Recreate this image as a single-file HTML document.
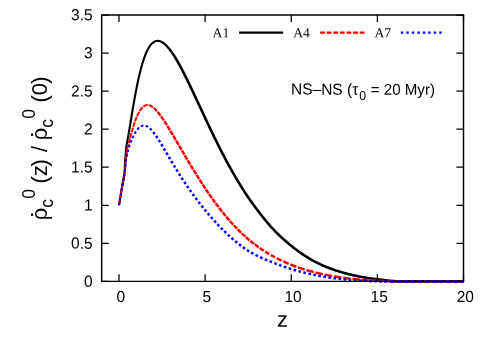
<!DOCTYPE html>
<html><head><meta charset="utf-8"><title>NS-NS rate density vs z</title>
<style>
html,body{margin:0;padding:0;background:#fff;}
svg{display:block;will-change:transform;font-family:"Liberation Sans",sans-serif;}
</style></head><body>
<svg width="491" height="343" viewBox="0 0 491 343">
<rect width="491" height="343" fill="#fff"/>
<path d="M120.04,205.27 L120.33,203.53 L120.62,201.79 L120.91,200.05 L121.20,198.31 L121.49,196.57 L121.79,194.82 L122.08,193.08 L122.37,191.34 L122.66,189.60 L122.95,187.86 L123.24,186.12 L123.53,184.38 L123.70,183.45 L123.87,182.52 L124.03,181.58 L124.20,180.65 L124.37,179.72 L124.53,178.78 L124.70,177.85 L124.87,176.92 L125.03,175.98 L125.20,175.05 L125.37,174.12 L125.54,173.13 L125.61,171.97 L125.67,170.89 L125.72,169.81 L125.78,168.72 L125.84,167.64 L125.90,166.56 L125.96,165.47 L126.02,164.39 L126.07,163.31 L126.13,162.22 L126.19,161.14 L126.25,160.07 L126.35,158.92 L126.45,157.76 L126.55,156.59 L126.65,155.42 L126.75,154.26 L126.85,153.09 L126.95,151.92 L127.05,150.76 L127.15,149.59 L127.25,148.42 L127.35,147.26 L127.44,146.12 L128.11,142.79 L128.78,139.12 L129.46,135.28 L130.14,131.30 L130.81,127.25 L131.49,123.15 L132.16,119.05 L132.84,114.96 L133.52,110.91 L134.19,106.92 L134.87,103.01 L135.54,99.19 L136.21,95.48 L136.89,91.87 L137.56,88.39 L138.24,85.04 L138.91,81.81 L139.58,78.72 L140.26,75.77 L140.93,72.95 L141.60,70.28 L142.28,67.74 L142.95,65.34 L143.62,63.07 L144.29,60.94 L144.96,58.94 L145.62,57.06 L146.29,55.32 L146.96,53.70 L147.62,52.20 L148.28,50.82 L148.94,49.55 L149.60,48.40 L150.25,47.35 L150.89,46.41 L151.53,45.58 L152.17,44.84 L152.80,44.20 L153.41,43.65 L154.02,43.18 L154.62,42.80 L155.21,42.49 L155.79,42.26 L156.37,42.09 L156.94,41.99 L157.51,41.94 L158.08,41.95 L158.66,42.02 L159.24,42.14 L159.84,42.32 L160.44,42.57 L161.04,42.86 L161.66,43.21 L162.28,43.61 L162.90,44.06 L163.54,44.56 L164.17,45.10 L164.81,45.70 L165.45,46.33 L166.10,47.01 L166.75,47.73 L167.40,48.49 L168.05,49.29 L168.70,50.12 L169.36,50.99 L170.01,51.89 L170.67,52.82 L171.33,53.79 L171.99,54.78 L172.65,55.80 L173.31,56.85 L173.97,57.92 L174.63,59.02 L175.29,60.14 L175.95,61.29 L176.62,62.45 L177.28,63.64 L177.96,64.84 L178.63,66.06 L179.30,67.30 L179.97,68.55 L180.64,69.82 L181.32,71.10 L181.99,72.40 L182.66,73.72 L183.34,75.04 L184.01,76.38 L184.68,77.73 L185.36,79.09 L186.03,80.46 L186.71,81.83 L187.38,83.22 L188.06,84.61 L188.73,86.02 L189.40,87.42 L190.08,88.84 L190.75,90.26 L191.43,91.68 L192.10,93.11 L192.78,94.55 L193.45,95.99 L194.13,97.43 L194.80,98.87 L195.48,100.32 L196.15,101.76 L196.83,103.21 L197.51,104.66 L198.18,106.11 L198.86,107.56 L199.53,109.01 L200.21,110.46 L200.88,111.91 L201.56,113.36 L202.24,114.81 L202.91,116.25 L203.59,117.70 L204.26,119.14 L204.94,120.57 L205.61,122.01 L206.29,123.44 L206.97,124.87 L207.64,126.29 L208.32,127.71 L209.00,129.13 L209.67,130.54 L210.35,131.95 L211.02,133.35 L211.70,134.75 L212.38,136.14 L213.05,137.53 L213.73,138.91 L214.41,140.29 L215.08,141.66 L215.76,143.02 L216.44,144.38 L217.11,145.73 L217.79,147.08 L218.47,148.42 L219.14,149.75 L219.82,151.07 L220.50,152.39 L221.17,153.70 L221.85,155.01 L222.53,156.31 L223.20,157.60 L223.88,158.88 L224.56,160.16 L225.24,161.42 L225.91,162.68 L226.59,163.94 L227.27,165.18 L227.94,166.42 L228.62,167.65 L229.30,168.87 L229.98,170.09 L230.65,171.29 L231.33,172.49 L232.01,173.68 L232.69,174.86 L233.36,176.04 L234.04,177.20 L234.72,178.36 L235.40,179.51 L236.07,180.65 L236.75,181.79 L237.43,182.91 L238.11,184.03 L238.78,185.14 L239.46,186.24 L240.14,187.33 L240.82,188.41 L241.50,189.49 L242.17,190.55 L242.85,191.61 L243.53,192.66 L244.21,193.70 L244.89,194.73 L245.57,195.75 L246.25,196.76 L246.92,197.76 L247.60,198.75 L248.28,199.73 L248.96,200.71 L249.64,201.67 L250.32,202.63 L251.00,203.58 L251.68,204.52 L252.35,205.45 L253.03,206.37 L253.71,207.28 L254.39,208.19 L255.07,209.10 L255.75,209.99 L256.42,210.88 L257.10,211.77 L257.78,212.65 L258.46,213.52 L259.13,214.39 L259.81,215.26 L260.49,216.12 L261.16,216.99 L261.84,217.85 L262.52,218.70 L263.20,219.55 L263.88,220.40 L264.56,221.24 L265.23,222.07 L265.92,222.89 L266.60,223.70 L267.28,224.51 L267.96,225.30 L268.64,226.09 L269.32,226.86 L270.00,227.63 L270.68,228.38 L271.36,229.12 L272.04,229.86 L272.73,230.58 L273.41,231.30 L274.09,232.01 L274.77,232.70 L275.45,233.39 L276.13,234.07 L276.81,234.74 L277.50,235.40 L278.18,236.05 L278.86,236.70 L279.54,237.34 L280.22,237.97 L280.90,238.60 L281.58,239.22 L282.26,239.83 L282.94,240.44 L283.62,241.04 L284.30,241.64 L284.98,242.24 L285.66,242.83 L286.34,243.41 L287.02,243.99 L287.70,244.56 L288.38,245.13 L289.06,245.69 L289.74,246.25 L290.42,246.80 L291.10,247.35 L291.78,247.89 L292.46,248.43 L293.14,248.96 L293.82,249.49 L294.50,250.01 L295.18,250.53 L295.86,251.04 L296.54,251.54 L297.22,252.04 L297.90,252.54 L298.59,253.03 L299.27,253.51 L299.95,253.99 L300.63,254.46 L301.31,254.93 L301.99,255.39 L302.67,255.85 L303.35,256.30 L304.04,256.75 L304.72,257.19 L305.40,257.62 L306.08,258.05 L306.76,258.48 L307.45,258.90 L308.13,259.31 L308.81,259.72 L309.49,260.13 L310.17,260.52 L310.86,260.92 L311.54,261.30 L312.22,261.68 L312.90,262.06 L313.59,262.43 L314.27,262.79 L314.95,263.15 L315.64,263.50 L316.32,263.85 L317.00,264.19 L317.69,264.53 L318.37,264.86 L319.05,265.19 L319.73,265.51 L320.42,265.82 L321.10,266.14 L321.78,266.44 L322.46,266.74 L323.15,267.04 L323.83,267.33 L324.51,267.62 L325.19,267.90 L325.88,268.18 L326.56,268.45 L327.24,268.72 L327.92,268.99 L328.60,269.25 L329.28,269.51 L329.97,269.76 L330.65,270.01 L331.33,270.26 L332.01,270.50 L332.69,270.74 L333.37,270.97 L334.05,271.21 L334.73,271.44 L335.41,271.66 L336.10,271.88 L336.78,272.10 L337.46,272.32 L338.14,272.53 L338.82,272.74 L339.50,272.95 L340.18,273.15 L340.86,273.36 L341.54,273.55 L342.22,273.75 L342.90,273.94 L343.58,274.14 L344.26,274.32 L344.94,274.51 L345.62,274.69 L346.30,274.87 L346.98,275.05 L347.66,275.23 L348.34,275.40 L349.02,275.57 L349.70,275.74 L350.38,275.90 L351.06,276.06 L351.74,276.22 L352.42,276.38 L353.10,276.54 L353.78,276.69 L354.46,276.84 L355.14,276.99 L355.82,277.13 L356.50,277.27 L357.18,277.41 L357.86,277.55 L358.54,277.68 L359.22,277.82 L359.90,277.95 L360.58,278.08 L361.26,278.20 L361.94,278.32 L362.62,278.45 L363.30,278.57 L363.97,278.68 L364.65,278.80 L365.33,278.91 L366.01,279.02 L366.69,279.13 L367.37,279.24 L368.05,279.34 L368.73,279.45 L369.41,279.55 L370.09,279.65 L370.77,279.74 L371.45,279.84 L372.12,279.93 L372.80,280.03 L373.48,280.12 L374.16,280.20 L374.84,280.29 L375.52,280.38 L376.20,280.46 L376.88,280.54 L377.56,280.62 L378.23,280.70 L378.91,280.77 L379.59,280.85 L380.26,280.92 L380.93,281.00 L381.60,281.08 L382.27,281.16 L382.94,281.25 L383.61,281.34 L384.29,281.43 L384.97,281.52 L385.65,281.61 L386.32,281.70 L387.01,281.78 L387.69,281.86 L388.37,281.94 L389.05,282.02 L389.73,282.09 L390.42,282.15 L391.10,282.22 L391.78,282.28 L392.47,282.33 L393.15,282.38 L393.83,282.43 L394.52,282.47 L395.20,282.51 L395.88,282.54 L396.57,282.57 L397.25,282.60 L397.93,282.62 L398.61,282.64 L399.30,282.65 L399.98,282.67 L400.66,282.68 L401.34,282.68 L402.02,282.69 L402.69,282.70 L403.37,282.70 L404.05,282.70 L404.73,282.70 L405.40,282.70 L406.08,282.70 L406.75,282.70 L407.43,282.70 L408.10,282.70 L408.78,282.70 L409.46,282.70 L410.13,282.70 L410.81,282.70 L411.48,282.70 L412.16,282.70 L412.83,282.70 L413.51,282.70 L414.18,282.70 L414.86,282.70 L415.54,282.70 L416.21,282.70 L416.89,282.70 L417.56,282.70 L418.24,282.70 L418.91,282.70 L419.59,282.70 L420.26,282.70 L420.94,282.70 L421.62,282.70 L422.29,282.70 L422.97,282.70 L423.64,282.70 L424.32,282.70 L424.99,282.70 L425.67,282.70 L426.34,282.70 L427.02,282.70 L427.70,282.70 L428.37,282.70 L429.05,282.70 L429.72,282.70 L430.40,282.70 L431.07,282.70 L431.75,282.70 L432.42,282.70 L433.10,282.70 L433.78,282.70 L434.45,282.70 L435.13,282.70 L435.80,282.70 L436.48,282.70 L437.15,282.70 L437.83,282.70 L438.50,282.70 L439.18,282.70 L439.86,282.70 L440.53,282.70 L441.21,282.70 L441.88,282.70 L442.56,282.70 L443.23,282.70 L443.91,282.70 L444.58,282.70 L445.26,282.70 L445.94,282.70 L446.61,282.70 L447.29,282.70 L447.96,282.70 L448.64,282.70 L449.31,282.70 L449.99,282.70 L450.66,282.70 L451.34,282.70 L452.02,282.70 L452.69,282.70 L453.37,282.70 L454.04,282.70 L454.72,282.70 L455.39,282.70 L456.07,282.70 L456.74,282.70 L457.42,282.70 L458.10,282.70 L458.77,282.70 L459.45,282.70 L460.12,282.70 L460.80,282.70 L461.47,282.70 L462.15,282.70 L462.82,282.70 L463.50,282.70 L463.50,280.10 L462.82,280.10 L462.15,280.10 L461.47,280.10 L460.80,280.10 L460.12,280.10 L459.45,280.10 L458.77,280.10 L458.10,280.10 L457.42,280.10 L456.74,280.10 L456.07,280.10 L455.39,280.10 L454.72,280.10 L454.04,280.10 L453.37,280.10 L452.69,280.10 L452.02,280.10 L451.34,280.10 L450.66,280.10 L449.99,280.10 L449.31,280.10 L448.64,280.10 L447.96,280.10 L447.29,280.10 L446.61,280.10 L445.94,280.10 L445.26,280.10 L444.58,280.10 L443.91,280.10 L443.23,280.10 L442.56,280.10 L441.88,280.10 L441.21,280.10 L440.53,280.10 L439.86,280.10 L439.18,280.10 L438.50,280.10 L437.83,280.10 L437.15,280.10 L436.48,280.10 L435.80,280.10 L435.13,280.10 L434.45,280.10 L433.78,280.10 L433.10,280.10 L432.42,280.10 L431.75,280.10 L431.07,280.10 L430.40,280.10 L429.72,280.10 L429.05,280.10 L428.37,280.10 L427.70,280.10 L427.02,280.10 L426.34,280.10 L425.67,280.10 L424.99,280.10 L424.32,280.10 L423.64,280.10 L422.97,280.10 L422.29,280.10 L421.62,280.10 L420.94,280.10 L420.26,280.10 L419.59,280.10 L418.91,280.10 L418.24,280.10 L417.56,280.10 L416.89,280.10 L416.21,280.10 L415.54,280.10 L414.86,280.10 L414.18,280.10 L413.51,280.10 L412.83,280.10 L412.16,280.10 L411.48,280.10 L410.81,280.10 L410.13,280.10 L409.46,280.10 L408.78,280.10 L408.10,280.10 L407.43,280.10 L406.75,280.10 L406.08,280.10 L405.40,280.10 L404.73,280.10 L404.05,280.10 L403.38,280.10 L402.71,280.10 L402.03,280.09 L401.36,280.09 L400.69,280.08 L400.02,280.07 L399.35,280.05 L398.68,280.04 L398.01,280.02 L397.34,280.00 L396.67,279.97 L396.00,279.94 L395.34,279.91 L394.67,279.87 L394.00,279.83 L393.33,279.79 L392.67,279.74 L392.00,279.69 L391.33,279.63 L390.66,279.57 L390.00,279.50 L389.33,279.43 L388.66,279.36 L387.99,279.28 L387.32,279.20 L386.65,279.12 L385.98,279.03 L385.30,278.94 L384.63,278.85 L383.96,278.76 L383.28,278.67 L382.60,278.59 L381.92,278.50 L381.24,278.42 L380.55,278.34 L379.87,278.26 L379.20,278.19 L378.53,278.11 L377.85,278.04 L377.18,277.96 L376.51,277.88 L375.84,277.80 L375.17,277.71 L374.49,277.63 L373.82,277.54 L373.15,277.45 L372.48,277.36 L371.80,277.27 L371.13,277.17 L370.46,277.07 L369.79,276.98 L369.12,276.88 L368.44,276.77 L367.77,276.67 L367.10,276.56 L366.43,276.46 L365.76,276.35 L365.09,276.23 L364.41,276.12 L363.74,276.00 L363.07,275.89 L362.40,275.77 L361.73,275.64 L361.05,275.52 L360.38,275.39 L359.71,275.26 L359.04,275.13 L358.37,275.00 L357.70,274.86 L357.03,274.73 L356.36,274.59 L355.68,274.44 L355.01,274.30 L354.34,274.15 L353.67,274.00 L353.00,273.85 L352.33,273.69 L351.66,273.53 L350.99,273.37 L350.32,273.21 L349.64,273.05 L348.97,272.88 L348.30,272.71 L347.63,272.54 L346.96,272.36 L346.29,272.18 L345.62,272.00 L344.95,271.82 L344.28,271.63 L343.61,271.44 L342.93,271.25 L342.26,271.06 L341.59,270.86 L340.92,270.66 L340.25,270.46 L339.58,270.26 L338.91,270.05 L338.24,269.84 L337.57,269.63 L336.90,269.41 L336.23,269.19 L335.56,268.97 L334.89,268.74 L334.22,268.52 L333.55,268.28 L332.88,268.05 L332.21,267.81 L331.54,267.57 L330.87,267.32 L330.20,267.07 L329.53,266.82 L328.86,266.56 L328.19,266.30 L327.52,266.04 L326.85,265.77 L326.18,265.50 L325.51,265.22 L324.84,264.94 L324.18,264.65 L323.51,264.36 L322.84,264.07 L322.17,263.77 L321.50,263.46 L320.83,263.15 L320.16,262.84 L319.50,262.52 L318.83,262.19 L318.16,261.87 L317.49,261.53 L316.82,261.19 L316.15,260.85 L315.49,260.49 L314.82,260.14 L314.15,259.78 L313.48,259.41 L312.81,259.04 L312.15,258.66 L311.48,258.27 L310.81,257.88 L310.14,257.49 L309.47,257.09 L308.80,256.68 L308.13,256.27 L307.46,255.85 L306.79,255.43 L306.12,255.00 L305.46,254.57 L304.79,254.13 L304.12,253.69 L303.45,253.24 L302.78,252.78 L302.11,252.32 L301.44,251.86 L300.77,251.39 L300.10,250.91 L299.43,250.43 L298.76,249.94 L298.09,249.45 L297.42,248.95 L296.75,248.45 L296.08,247.94 L295.41,247.43 L294.73,246.91 L294.06,246.39 L293.39,245.86 L292.72,245.32 L292.05,244.78 L291.38,244.24 L290.71,243.69 L290.04,243.13 L289.37,242.57 L288.70,242.00 L288.03,241.43 L287.35,240.86 L286.68,240.28 L286.01,239.69 L285.34,239.10 L284.67,238.50 L284.00,237.90 L283.33,237.29 L282.65,236.68 L281.98,236.06 L281.31,235.44 L280.64,234.81 L279.97,234.17 L279.30,233.53 L278.63,232.88 L277.96,232.22 L277.29,231.55 L276.62,230.88 L275.95,230.19 L275.28,229.50 L274.61,228.80 L273.94,228.08 L273.28,227.36 L272.61,226.63 L271.94,225.89 L271.27,225.14 L270.60,224.38 L269.93,223.60 L269.26,222.82 L268.58,222.03 L267.91,221.23 L267.24,220.42 L266.57,219.60 L265.90,218.77 L265.23,217.93 L264.55,217.08 L263.88,216.23 L263.21,215.38 L262.53,214.52 L261.86,213.66 L261.18,212.79 L260.51,211.93 L259.84,211.06 L259.16,210.18 L258.49,209.30 L257.82,208.42 L257.14,207.53 L256.47,206.63 L255.80,205.73 L255.13,204.83 L254.45,203.91 L253.78,202.99 L253.11,202.06 L252.44,201.12 L251.76,200.17 L251.09,199.22 L250.42,198.25 L249.75,197.28 L249.07,196.30 L248.40,195.30 L247.73,194.30 L247.06,193.29 L246.38,192.27 L245.71,191.24 L245.04,190.20 L244.37,189.15 L243.69,188.10 L243.02,187.03 L242.35,185.95 L241.67,184.87 L241.00,183.78 L240.33,182.68 L239.65,181.57 L238.98,180.45 L238.31,179.32 L237.63,178.19 L236.96,177.04 L236.29,175.89 L235.61,174.73 L234.94,173.57 L234.27,172.39 L233.59,171.21 L232.92,170.02 L232.24,168.82 L231.57,167.61 L230.90,166.39 L230.22,165.17 L229.55,163.94 L228.88,162.70 L228.20,161.45 L227.53,160.20 L226.85,158.93 L226.18,157.66 L225.51,156.39 L224.83,155.10 L224.16,153.81 L223.48,152.51 L222.81,151.20 L222.13,149.89 L221.46,148.57 L220.79,147.24 L220.11,145.91 L219.44,144.56 L218.76,143.22 L218.09,141.86 L217.41,140.50 L216.74,139.14 L216.06,137.77 L215.39,136.39 L214.72,135.00 L214.04,133.61 L213.37,132.22 L212.69,130.82 L212.02,129.42 L211.34,128.01 L210.67,126.59 L209.99,125.18 L209.32,123.75 L208.64,122.33 L207.97,120.90 L207.29,119.47 L206.62,118.03 L205.94,116.59 L205.27,115.15 L204.59,113.71 L203.92,112.26 L203.24,110.81 L202.56,109.37 L201.89,107.92 L201.21,106.47 L200.54,105.02 L199.86,103.57 L199.19,102.11 L198.51,100.67 L197.84,99.22 L197.16,97.77 L196.48,96.32 L195.81,94.88 L195.13,93.44 L194.46,92.01 L193.78,90.57 L193.10,89.15 L192.43,87.72 L191.75,86.30 L191.07,84.89 L190.40,83.48 L189.72,82.08 L189.04,80.69 L188.37,79.31 L187.69,77.93 L187.01,76.57 L186.33,75.21 L185.66,73.87 L184.98,72.53 L184.30,71.21 L183.62,69.90 L182.95,68.61 L182.27,67.33 L181.59,66.06 L180.91,64.81 L180.23,63.58 L179.55,62.36 L178.87,61.17 L178.18,59.99 L177.49,58.84 L176.80,57.71 L176.11,56.60 L175.42,55.51 L174.73,54.45 L174.04,53.42 L173.35,52.41 L172.65,51.43 L171.96,50.47 L171.26,49.55 L170.57,48.66 L169.87,47.80 L169.17,46.98 L168.47,46.19 L167.77,45.44 L167.06,44.72 L166.35,44.05 L165.64,43.42 L164.93,42.83 L164.21,42.29 L163.48,41.79 L162.75,41.34 L162.01,40.95 L161.27,40.61 L160.52,40.33 L159.76,40.11 L159.00,39.95 L158.22,39.86 L157.44,39.84 L156.66,39.90 L155.88,40.05 L155.11,40.27 L154.34,40.58 L153.57,40.98 L152.82,41.46 L152.08,42.02 L151.35,42.68 L150.62,43.42 L149.91,44.25 L149.20,45.18 L148.49,46.20 L147.79,47.32 L147.10,48.55 L146.40,49.88 L145.71,51.32 L145.03,52.87 L144.34,54.54 L143.66,56.34 L142.97,58.25 L142.29,60.29 L141.61,62.46 L140.93,64.75 L140.25,67.19 L139.57,69.75 L138.89,72.45 L138.21,75.29 L137.54,78.27 L136.86,81.37 L136.18,84.61 L135.50,87.98 L134.83,91.48 L134.15,95.09 L133.47,98.82 L132.80,102.65 L132.12,106.57 L131.44,110.56 L130.77,114.61 L130.09,118.71 L129.42,122.81 L128.74,126.91 L128.07,130.95 L127.39,134.92 L126.72,138.75 L126.04,142.39 L125.36,145.88 L125.25,147.08 L125.15,148.24 L125.05,149.41 L124.95,150.58 L124.85,151.74 L124.75,152.91 L124.65,154.08 L124.55,155.24 L124.45,156.41 L124.35,157.58 L124.25,158.74 L124.15,159.93 L124.09,161.03 L124.03,162.11 L123.98,163.19 L123.92,164.28 L123.86,165.36 L123.80,166.44 L123.74,167.53 L123.68,168.61 L123.63,169.69 L123.57,170.78 L123.51,171.86 L123.46,172.87 L123.30,173.75 L123.13,174.68 L122.97,175.62 L122.80,176.55 L122.63,177.48 L122.47,178.42 L122.30,179.35 L122.13,180.28 L121.97,181.22 L121.80,182.15 L121.63,183.08 L121.47,184.02 L121.17,185.77 L120.88,187.51 L120.59,189.25 L120.30,190.99 L120.01,192.73 L119.71,194.48 L119.42,196.22 L119.13,197.96 L118.84,199.70 L118.55,201.44 L118.26,203.18 L117.96,204.93Z" fill="#000"/>
<path d="M119.98,205.27 L120.29,203.53 L120.60,201.79 L120.82,200.55 L118.85,200.20 L118.63,201.44 L118.32,203.18 L118.02,204.93ZM120.98,199.66 L121.22,198.31 L121.53,196.57 L121.82,194.94 L119.85,194.59 L119.56,196.22 L119.25,197.96 L119.01,199.31ZM121.97,194.05 L122.14,193.08 L122.45,191.34 L122.76,189.60 L122.81,189.32 L120.84,188.97 L120.79,189.25 L120.48,190.99 L120.17,192.73 L120.00,193.70ZM122.97,188.44 L123.07,187.86 L123.38,186.12 L123.68,184.38 L123.81,183.72 L121.84,183.35 L121.72,184.02 L121.41,185.77 L121.10,187.51 L121.00,188.09ZM123.97,182.84 L124.03,182.52 L124.21,181.58 L124.38,180.65 L124.56,179.72 L124.73,178.78 L124.86,178.12 L122.89,177.75 L122.77,178.42 L122.59,179.35 L122.42,180.28 L122.24,181.22 L122.07,182.15 L122.01,182.47ZM125.02,177.23 L125.08,176.92 L125.26,175.98 L125.43,175.05 L125.61,174.12 L125.79,173.13 L125.85,172.42 L123.86,172.22 L123.81,172.87 L123.64,173.75 L123.47,174.68 L123.29,175.62 L123.12,176.55 L123.06,176.87ZM125.92,171.50 L125.96,170.91 L126.05,169.83 L126.13,168.74 L126.21,167.66 L126.29,166.72 L124.29,166.56 L124.22,167.51 L124.14,168.59 L124.05,169.67 L123.97,170.76 L123.92,171.35ZM126.36,165.82 L126.38,165.49 L126.46,164.41 L126.55,163.33 L126.63,162.24 L126.71,161.16 L126.72,161.04 L124.73,160.88 L124.72,161.01 L124.64,162.09 L124.55,163.17 L124.47,164.26 L124.39,165.34 L124.36,165.66ZM126.79,160.16 L126.79,160.10 L126.92,159.12 L127.04,158.12 L127.17,157.12 L127.29,156.12 L127.38,155.42 L125.40,155.17 L125.31,155.88 L125.18,156.88 L125.06,157.88 L124.93,158.88 L124.81,159.90 L124.80,159.96ZM127.49,154.53 L127.54,154.12 L127.67,153.12 L127.79,152.12 L127.92,151.12 L128.04,150.12 L128.09,149.76 L126.10,149.51 L126.06,149.88 L125.93,150.88 L125.81,151.88 L125.68,152.88 L125.56,153.88 L125.51,154.28ZM128.20,148.89 L128.29,148.24 L128.94,145.92 L129.36,144.37 L127.43,143.84 L127.01,145.39 L126.31,147.90 L126.22,148.61ZM129.60,143.50 L129.61,143.45 L130.29,140.95 L130.85,138.86 L128.92,138.34 L128.36,140.43 L127.68,142.92 L127.67,142.97ZM131.09,137.99 L131.63,136.00 L132.30,133.58 L132.36,133.38 L130.44,132.83 L130.38,133.04 L129.70,135.47 L129.16,137.47ZM132.61,132.51 L132.98,131.23 L133.65,128.95 L133.96,127.93 L132.05,127.34 L131.73,128.38 L131.06,130.67 L130.69,131.96ZM134.22,127.07 L134.32,126.76 L134.99,124.67 L135.66,122.68 L135.70,122.54 L133.82,121.88 L133.77,122.02 L133.09,124.04 L132.41,126.16 L132.31,126.48ZM136.00,121.70 L136.32,120.79 L136.99,119.02 L137.66,117.37 L137.70,117.27 L135.86,116.50 L135.81,116.60 L135.13,118.30 L134.45,120.11 L134.12,121.03ZM138.05,116.46 L138.32,115.84 L138.98,114.42 L139.64,113.13 L140.13,112.25 L138.39,111.26 L137.87,112.19 L137.18,113.55 L136.49,115.02 L136.22,115.66ZM140.57,111.50 L140.94,110.90 L141.58,109.96 L142.22,109.13 L142.85,108.42 L143.34,107.94 L141.98,106.47 L141.40,107.04 L140.68,107.86 L139.97,108.78 L139.26,109.81 L138.86,110.46ZM143.95,107.41 L144.07,107.31 L144.67,106.90 L145.25,106.58 L145.82,106.35 L146.38,106.19 L146.94,106.10 L147.50,106.08 L147.71,106.09 L147.83,104.10 L147.53,104.08 L146.74,104.11 L145.95,104.24 L145.17,104.46 L144.39,104.78 L143.62,105.19 L142.87,105.71 L142.72,105.83ZM148.47,106.19 L148.64,106.22 L149.22,106.39 L149.82,106.62 L150.42,106.92 L151.03,107.27 L151.65,107.68 L152.27,108.15 L152.29,108.17 L153.56,106.49 L153.53,106.47 L152.81,105.97 L152.08,105.51 L151.35,105.11 L150.60,104.77 L149.85,104.49 L149.08,104.28 L148.86,104.23ZM152.95,108.71 L153.54,109.23 L154.17,109.84 L154.82,110.49 L155.46,111.18 L156.11,111.91 L156.19,112.01 L157.87,110.53 L157.78,110.43 L157.08,109.68 L156.38,108.96 L155.67,108.27 L154.96,107.63 L154.31,107.08ZM156.76,112.68 L157.41,113.48 L158.06,114.31 L158.72,115.17 L159.37,116.06 L159.64,116.42 L161.53,115.03 L161.25,114.66 L160.56,113.76 L159.87,112.88 L159.17,112.04 L158.48,111.22ZM160.15,117.15 L160.69,117.90 L161.34,118.86 L162.00,119.84 L162.66,120.84 L162.82,121.08 L164.87,119.72 L164.70,119.47 L164.01,118.47 L163.33,117.49 L162.64,116.52 L162.08,115.76ZM163.31,121.83 L163.32,121.85 L163.98,122.88 L164.65,123.92 L165.32,124.97 L165.88,125.85 L167.99,124.53 L167.43,123.64 L166.76,122.57 L166.08,121.52 L165.39,120.49 L165.38,120.47ZM166.35,126.61 L166.66,127.11 L167.33,128.20 L168.01,129.30 L168.68,130.40 L168.85,130.69 L170.99,129.40 L170.82,129.11 L170.14,128.00 L169.46,126.89 L168.79,125.80 L168.47,125.29ZM169.32,131.46 L169.35,131.52 L170.02,132.64 L170.69,133.76 L171.37,134.89 L171.77,135.58 L173.92,134.30 L173.52,133.62 L172.84,132.48 L172.17,131.35 L171.49,130.23 L171.46,130.17ZM172.23,136.35 L172.71,137.17 L173.38,138.32 L174.06,139.47 L174.65,140.48 L176.81,139.22 L176.21,138.20 L175.54,137.05 L174.87,135.90 L174.38,135.08ZM175.11,141.26 L175.40,141.77 L176.08,142.92 L176.75,144.08 L177.42,145.24 L177.52,145.41 L179.68,144.15 L179.59,143.98 L178.91,142.82 L178.24,141.66 L177.56,140.51 L177.27,140.00ZM177.98,146.18 L178.10,146.39 L178.77,147.55 L179.45,148.71 L180.12,149.86 L180.39,150.33 L182.55,149.07 L182.28,148.61 L181.61,147.45 L180.93,146.29 L180.26,145.14 L180.14,144.93ZM180.85,151.11 L181.47,152.17 L182.14,153.33 L182.82,154.48 L183.27,155.26 L185.43,153.99 L184.97,153.21 L184.30,152.06 L183.63,150.91 L183.01,149.85ZM183.73,156.03 L184.16,156.77 L184.84,157.92 L185.51,159.06 L186.17,160.17 L188.32,158.90 L187.67,157.79 L186.99,156.65 L186.32,155.51 L185.88,154.77ZM186.63,160.94 L186.86,161.34 L187.54,162.47 L188.21,163.60 L188.89,164.73 L189.09,165.07 L191.24,163.78 L191.03,163.44 L190.36,162.32 L189.68,161.19 L189.01,160.06 L188.78,159.67ZM189.56,165.84 L189.56,165.85 L190.24,166.97 L190.91,168.08 L191.59,169.19 L192.05,169.95 L194.18,168.65 L193.72,167.89 L193.05,166.79 L192.38,165.67 L191.70,164.56 L191.70,164.55ZM192.52,170.72 L192.94,171.40 L193.61,172.50 L194.29,173.59 L194.96,174.68 L195.05,174.82 L197.17,173.50 L197.08,173.36 L196.41,172.28 L195.74,171.19 L195.07,170.09 L194.65,169.42ZM195.52,175.58 L195.64,175.76 L196.31,176.84 L196.99,177.92 L197.66,178.98 L198.09,179.65 L200.20,178.31 L199.77,177.65 L199.10,176.58 L198.43,175.51 L197.76,174.44 L197.64,174.26ZM198.57,180.41 L199.01,181.10 L199.69,182.16 L200.36,183.20 L201.04,184.25 L201.18,184.46 L203.27,183.09 L203.13,182.88 L202.46,181.85 L201.79,180.80 L201.12,179.76 L200.68,179.07ZM201.67,185.21 L201.71,185.28 L202.39,186.31 L203.06,187.34 L203.74,188.36 L204.32,189.23 L206.40,187.84 L205.82,186.97 L205.15,185.96 L204.48,184.94 L203.81,183.91 L203.76,183.85ZM204.83,189.98 L205.09,190.37 L205.77,191.38 L206.44,192.37 L207.12,193.36 L207.53,193.96 L209.59,192.54 L209.18,191.95 L208.51,190.96 L207.84,189.97 L207.17,188.98 L206.90,188.59ZM208.05,194.70 L208.47,195.32 L209.15,196.29 L209.82,197.25 L210.50,198.21 L210.81,198.65 L212.85,197.20 L212.54,196.76 L211.87,195.81 L211.20,194.86 L210.52,193.89 L210.10,193.28ZM211.33,199.38 L211.85,200.11 L212.53,201.04 L213.20,201.97 L213.88,202.90 L214.16,203.28 L216.17,201.80 L215.89,201.42 L215.22,200.50 L214.55,199.58 L213.88,198.65 L213.37,197.93ZM214.70,204.01 L215.23,204.73 L215.91,205.64 L216.58,206.53 L217.26,207.43 L217.59,207.86 L219.58,206.34 L219.25,205.91 L218.58,205.03 L217.91,204.14 L217.24,203.24 L216.71,202.52ZM218.14,208.58 L218.61,209.19 L219.29,210.06 L219.97,210.93 L220.64,211.78 L221.12,212.38 L223.07,210.82 L222.60,210.23 L221.93,209.38 L221.26,208.52 L220.59,207.66 L220.13,207.05ZM221.68,213.08 L222.00,213.48 L222.68,214.32 L223.35,215.15 L224.03,215.97 L224.71,216.79 L224.73,216.82 L226.65,215.22 L226.63,215.19 L225.96,214.38 L225.29,213.56 L224.62,212.74 L223.95,211.91 L223.63,211.52ZM225.31,217.51 L225.38,217.60 L226.06,218.40 L226.74,219.19 L227.42,219.98 L228.09,220.77 L228.45,221.18 L230.33,219.53 L229.98,219.12 L229.31,218.35 L228.64,217.57 L227.97,216.78 L227.30,215.99 L227.23,215.90ZM229.05,221.86 L229.45,222.31 L230.13,223.07 L230.80,223.82 L231.48,224.57 L232.16,225.31 L232.28,225.44 L234.12,223.75 L234.00,223.62 L233.33,222.89 L232.66,222.15 L231.99,221.40 L231.32,220.65 L230.92,220.20ZM232.89,226.11 L233.51,226.77 L234.19,227.49 L234.87,228.20 L235.55,228.91 L236.22,229.60 L238.01,227.86 L237.35,227.17 L236.68,226.47 L236.01,225.77 L235.34,225.06 L234.73,224.40ZM236.86,230.25 L236.90,230.30 L237.58,230.98 L238.26,231.66 L238.94,232.33 L239.62,233.00 L240.29,233.65 L242.03,231.85 L241.36,231.21 L240.69,230.55 L240.02,229.89 L239.35,229.22 L238.69,228.54 L238.64,228.50ZM240.95,234.28 L240.97,234.31 L241.65,234.95 L242.33,235.58 L243.01,236.21 L243.69,236.84 L244.37,237.45 L244.50,237.57 L246.17,235.71 L246.04,235.59 L245.37,234.99 L244.71,234.38 L244.04,233.76 L243.37,233.13 L242.70,232.50 L242.67,232.47ZM245.17,238.17 L245.73,238.66 L246.41,239.26 L247.09,239.84 L247.77,240.42 L248.44,241.00 L248.84,241.33 L250.44,239.41 L250.05,239.08 L249.38,238.52 L248.72,237.95 L248.05,237.37 L247.38,236.78 L246.83,236.30ZM249.54,241.91 L249.80,242.12 L250.48,242.68 L251.16,243.22 L251.84,243.76 L252.52,244.29 L253.20,244.82 L253.33,244.92 L254.85,242.94 L254.73,242.84 L254.06,242.32 L253.39,241.80 L252.72,241.27 L252.06,240.73 L251.39,240.19 L251.13,239.97ZM254.07,245.48 L254.56,245.85 L255.24,246.36 L255.92,246.86 L256.60,247.36 L257.28,247.85 L257.96,248.33 L257.98,248.34 L259.42,246.30 L259.40,246.29 L258.73,245.81 L258.07,245.33 L257.40,244.85 L256.73,244.35 L256.06,243.86 L255.58,243.49ZM259.02,249.07 L259.32,249.28 L260.00,249.74 L260.68,250.20 L261.36,250.66 L262.04,251.11 L262.72,251.55 L263.04,251.76 L264.40,249.66 L264.08,249.45 L263.41,249.02 L262.74,248.57 L262.07,248.13 L261.41,247.68 L260.74,247.22 L260.44,247.01ZM264.42,252.64 L264.76,252.85 L265.43,253.27 L266.11,253.69 L266.79,254.10 L267.47,254.51 L268.15,254.91 L268.56,255.15 L269.82,252.99 L269.42,252.76 L268.75,252.36 L268.09,251.96 L267.42,251.55 L266.75,251.14 L266.08,250.73 L265.75,250.52ZM270.13,256.06 L270.19,256.09 L270.87,256.48 L271.55,256.86 L272.23,257.24 L272.90,257.61 L273.58,257.98 L274.26,258.34 L274.56,258.50 L275.73,256.29 L275.44,256.13 L274.77,255.78 L274.10,255.41 L273.43,255.05 L272.76,254.68 L272.10,254.30 L271.43,253.92 L271.37,253.89ZM276.16,259.34 L276.30,259.41 L276.98,259.76 L277.66,260.10 L278.34,260.44 L279.01,260.78 L279.69,261.11 L280.37,261.44 L281.05,261.76 L281.08,261.78 L282.16,259.52 L282.12,259.50 L281.46,259.18 L280.79,258.86 L280.12,258.53 L279.45,258.20 L278.78,257.87 L278.11,257.53 L277.44,257.19 L277.31,257.12ZM282.73,262.54 L283.09,262.71 L283.77,263.02 L284.45,263.32 L285.13,263.62 L285.81,263.92 L286.49,264.21 L287.16,264.50 L287.84,264.79 L288.20,264.93 L289.16,262.62 L288.81,262.48 L288.14,262.20 L287.47,261.91 L286.80,261.63 L286.13,261.33 L285.47,261.04 L284.80,260.74 L284.13,260.43 L283.77,260.27ZM289.87,265.62 L289.88,265.62 L290.56,265.89 L291.24,266.16 L291.92,266.43 L292.60,266.69 L293.27,266.95 L293.95,267.20 L294.63,267.45 L295.31,267.70 L295.94,267.93 L296.78,265.57 L296.16,265.35 L295.49,265.11 L294.83,264.86 L294.16,264.61 L293.49,264.35 L292.82,264.10 L292.15,263.84 L291.48,263.57 L290.81,263.30 L290.81,263.30ZM297.65,268.53 L298.02,268.66 L298.70,268.89 L299.38,269.12 L300.06,269.35 L300.74,269.57 L301.42,269.79 L302.09,270.01 L302.77,270.22 L303.45,270.43 L304.13,270.64 L304.34,270.71 L305.07,268.32 L304.86,268.25 L304.19,268.05 L303.52,267.84 L302.85,267.63 L302.18,267.41 L301.52,267.19 L300.85,266.97 L300.18,266.75 L299.51,266.52 L298.84,266.30 L298.46,266.17ZM306.08,271.23 L306.16,271.26 L306.84,271.46 L307.52,271.65 L308.20,271.85 L308.87,272.04 L309.55,272.23 L310.23,272.41 L310.91,272.60 L311.58,272.78 L312.26,272.96 L312.94,273.14 L313.44,273.27 L314.07,270.85 L313.57,270.72 L312.90,270.54 L312.23,270.37 L311.56,270.19 L310.89,270.00 L310.22,269.82 L309.55,269.63 L308.88,269.44 L308.21,269.25 L307.54,269.06 L306.87,268.86 L306.79,268.83ZM315.20,273.71 L315.65,273.82 L316.33,273.99 L317.00,274.15 L317.68,274.32 L318.36,274.48 L319.04,274.63 L319.71,274.79 L320.39,274.94 L321.07,275.09 L321.75,275.24 L322.42,275.39 L322.64,275.44 L323.17,272.99 L322.95,272.95 L322.28,272.80 L321.61,272.65 L320.94,272.50 L320.27,272.35 L319.60,272.20 L318.93,272.04 L318.26,271.88 L317.59,271.72 L316.92,271.56 L316.25,271.40 L315.80,271.29ZM324.41,275.81 L324.45,275.82 L325.13,275.96 L325.81,276.10 L326.48,276.24 L327.16,276.37 L327.84,276.50 L328.51,276.64 L329.19,276.77 L329.87,276.89 L330.54,277.02 L331.22,277.14 L331.90,277.27 L331.91,277.27 L332.35,274.81 L332.34,274.81 L331.67,274.68 L331.00,274.56 L330.33,274.44 L329.66,274.31 L328.99,274.18 L328.32,274.05 L327.65,273.92 L326.97,273.79 L326.30,273.65 L325.63,273.51 L324.96,273.38 L324.92,273.37ZM333.69,277.58 L333.93,277.62 L334.61,277.74 L335.28,277.85 L335.96,277.97 L336.64,278.08 L337.31,278.18 L337.99,278.29 L338.67,278.40 L339.34,278.50 L340.02,278.60 L340.70,278.71 L341.22,278.78 L341.58,276.31 L341.06,276.23 L340.39,276.13 L339.72,276.03 L339.05,275.93 L338.38,275.82 L337.71,275.72 L337.04,275.61 L336.37,275.50 L335.69,275.39 L335.02,275.27 L334.35,275.16 L334.11,275.12ZM343.01,279.04 L343.40,279.09 L344.08,279.19 L344.75,279.28 L345.43,279.37 L346.11,279.45 L346.78,279.54 L347.46,279.63 L348.14,279.71 L348.81,279.79 L349.49,279.87 L350.17,279.95 L350.58,280.00 L350.87,277.51 L350.45,277.47 L349.78,277.39 L349.11,277.31 L348.44,277.23 L347.77,277.15 L347.10,277.06 L346.43,276.98 L345.76,276.89 L345.09,276.80 L344.42,276.71 L343.74,276.62 L343.36,276.56ZM352.38,280.20 L352.87,280.25 L353.55,280.32 L354.23,280.39 L354.90,280.46 L355.58,280.53 L356.26,280.59 L356.93,280.66 L357.61,280.72 L358.28,280.78 L358.96,280.84 L359.64,280.90 L359.75,280.91 L359.96,278.42 L359.85,278.41 L359.18,278.35 L358.51,278.29 L357.84,278.23 L357.16,278.17 L356.49,278.10 L355.82,278.04 L355.15,277.97 L354.48,277.90 L353.81,277.84 L353.14,277.76 L352.65,277.71ZM361.55,281.05 L361.67,281.06 L362.34,281.12 L363.02,281.17 L363.69,281.22 L364.37,281.27 L365.04,281.32 L365.72,281.37 L366.40,281.41 L367.07,281.46 L367.75,281.50 L368.42,281.54 L368.57,281.55 L368.73,279.06 L368.58,279.05 L367.91,279.01 L367.24,278.96 L366.57,278.92 L365.89,278.87 L365.22,278.82 L364.55,278.78 L363.88,278.73 L363.21,278.68 L362.53,278.62 L361.86,278.57 L361.75,278.56ZM370.37,281.66 L370.45,281.67 L371.13,281.71 L371.80,281.74 L372.48,281.78 L373.15,281.82 L373.83,281.85 L374.50,281.89 L375.18,281.92 L375.85,281.96 L376.52,281.99 L377.05,282.02 L377.19,279.53 L376.65,279.50 L375.98,279.46 L375.30,279.42 L374.63,279.39 L373.96,279.36 L373.28,279.32 L372.61,279.29 L371.94,279.25 L371.27,279.21 L370.60,279.17 L370.52,279.17ZM378.85,282.12 L379.21,282.14 L379.89,282.18 L380.56,282.22 L381.24,282.25 L381.91,282.29 L382.59,282.32 L383.27,282.35 L383.94,282.38 L384.62,282.41 L385.22,282.44 L385.32,279.94 L384.72,279.91 L384.05,279.89 L383.38,279.86 L382.71,279.82 L382.04,279.79 L381.37,279.76 L380.70,279.72 L380.02,279.68 L379.35,279.65 L378.99,279.63ZM387.03,282.50 L387.33,282.51 L388.01,282.53 L388.68,282.55 L389.36,282.56 L390.04,282.58 L390.71,282.59 L391.39,282.60 L392.07,282.61 L392.74,282.62 L393.11,282.62 L393.13,280.12 L392.77,280.12 L392.10,280.11 L391.43,280.10 L390.76,280.09 L390.09,280.08 L389.42,280.06 L388.75,280.05 L388.07,280.03 L387.40,280.01 L387.11,280.00ZM394.91,282.64 L395.44,282.64 L396.12,282.64 L396.80,282.65 L397.47,282.65 L398.14,282.65 L398.82,282.65 L399.49,282.65 L400.17,282.65 L400.67,282.65 L400.67,280.15 L400.17,280.15 L399.49,280.15 L398.82,280.15 L398.15,280.15 L397.48,280.15 L396.80,280.15 L396.13,280.14 L395.46,280.14 L394.93,280.14ZM402.47,282.65 L402.86,282.65 L403.54,282.65 L404.21,282.65 L404.88,282.65 L405.56,282.65 L406.23,282.65 L406.91,282.65 L407.58,282.65 L407.92,282.65 L407.92,280.15 L407.58,280.15 L406.91,280.15 L406.23,280.15 L405.56,280.15 L404.88,280.15 L404.21,280.15 L403.54,280.15 L402.86,280.15 L402.47,280.15ZM409.72,282.65 L410.27,282.65 L410.95,282.65 L411.62,282.65 L412.30,282.65 L412.97,282.65 L413.64,282.65 L414.32,282.65 L414.99,282.65 L415.02,282.65 L415.02,280.15 L414.99,280.15 L414.32,280.15 L413.64,280.15 L412.97,280.15 L412.30,280.15 L411.62,280.15 L410.95,280.15 L410.27,280.15 L409.72,280.15ZM416.82,282.65 L417.01,282.65 L417.69,282.65 L418.36,282.65 L419.03,282.65 L419.71,282.65 L420.38,282.65 L421.05,282.65 L421.73,282.65 L422.12,282.65 L422.12,280.15 L421.73,280.15 L421.05,280.15 L420.38,280.15 L419.71,280.15 L419.03,280.15 L418.36,280.15 L417.69,280.15 L417.01,280.15 L416.82,280.15ZM423.92,282.65 L424.42,282.65 L425.10,282.65 L425.77,282.65 L426.44,282.65 L427.12,282.65 L427.79,282.65 L428.47,282.65 L429.14,282.65 L429.22,282.65 L429.22,280.15 L429.14,280.15 L428.47,280.15 L427.79,280.15 L427.12,280.15 L426.44,280.15 L425.77,280.15 L425.10,280.15 L424.42,280.15 L423.92,280.15ZM431.02,282.65 L431.16,282.65 L431.83,282.65 L432.51,282.65 L433.18,282.65 L433.86,282.65 L434.53,282.65 L435.20,282.65 L435.88,282.65 L436.32,282.65 L436.32,280.15 L435.88,280.15 L435.20,280.15 L434.53,280.15 L433.86,280.15 L433.18,280.15 L432.51,280.15 L431.83,280.15 L431.16,280.15 L431.02,280.15ZM438.12,282.65 L438.57,282.65 L439.25,282.65 L439.92,282.65 L440.59,282.65 L441.27,282.65 L441.94,282.65 L442.61,282.65 L443.29,282.65 L443.42,282.65 L443.42,280.15 L443.29,280.15 L442.61,280.15 L441.94,280.15 L441.27,280.15 L440.59,280.15 L439.92,280.15 L439.25,280.15 L438.57,280.15 L438.12,280.15ZM445.22,282.65 L445.31,282.65 L445.98,282.65 L446.66,282.65 L447.33,282.65 L448.00,282.65 L448.68,282.65 L449.35,282.65 L450.03,282.65 L450.52,282.65 L450.52,280.15 L450.03,280.15 L449.35,280.15 L448.68,280.15 L448.00,280.15 L447.33,280.15 L446.66,280.15 L445.98,280.15 L445.31,280.15 L445.22,280.15ZM452.32,282.65 L452.72,282.65 L453.39,282.65 L454.07,282.65 L454.74,282.65 L455.42,282.65 L456.09,282.65 L456.76,282.65 L457.44,282.65 L457.62,282.65 L457.62,280.15 L457.44,280.15 L456.76,280.15 L456.09,280.15 L455.42,280.15 L454.74,280.15 L454.07,280.15 L453.39,280.15 L452.72,280.15 L452.32,280.15ZM459.42,282.65 L459.46,282.65 L460.13,282.65 L460.81,282.65 L461.48,282.65 L462.15,282.65 L462.83,282.65 L463.50,282.65 L463.50,280.15 L462.83,280.15 L462.15,280.15 L461.48,280.15 L460.81,280.15 L460.13,280.15 L459.46,280.15 L459.42,280.15Z" fill="#ff0000"/>
<path d="M119.98,205.27 L120.29,203.53 L120.44,202.71 L118.47,202.37 L118.32,203.18 L118.02,204.93ZM120.84,200.45 L120.91,200.05 L121.22,198.31 L121.29,197.89 L119.32,197.54 L119.25,197.96 L118.94,199.70 L118.87,200.10ZM121.69,195.62 L121.83,194.82 L122.14,193.08 L122.15,193.06 L120.18,192.72 L120.17,192.73 L119.87,194.48 L119.72,195.28ZM122.55,190.80 L122.76,189.60 L123.00,188.24 L121.03,187.89 L120.79,189.25 L120.58,190.45ZM123.40,185.97 L123.68,184.38 L123.86,183.45 L123.86,183.43 L121.90,183.06 L121.89,183.08 L121.72,184.02 L121.43,185.63ZM124.29,181.17 L124.38,180.65 L124.56,179.72 L124.73,178.78 L124.77,178.61 L122.80,178.24 L122.77,178.42 L122.59,179.35 L122.42,180.28 L122.32,180.80ZM125.19,176.35 L125.26,175.98 L125.43,175.05 L125.61,174.12 L125.67,173.78 L123.70,173.44 L123.64,173.75 L123.47,174.68 L123.29,175.62 L123.22,175.98ZM125.95,171.42 L126.00,170.93 L126.10,169.84 L126.19,168.83 L124.20,168.65 L124.10,169.66 L124.00,170.74 L123.96,171.24ZM126.40,166.54 L126.50,165.51 L126.60,164.43 L126.64,163.95 L124.65,163.77 L124.60,164.24 L124.50,165.32 L124.41,166.36ZM126.85,161.66 L126.90,161.18 L126.99,160.15 L127.19,159.21 L127.19,159.21 L125.24,158.79 L125.24,158.79 L125.01,159.85 L124.90,160.99 L124.86,161.48ZM127.68,156.96 L127.84,156.21 L128.06,155.21 L128.23,154.42 L126.28,154.00 L126.11,154.79 L125.89,155.79 L125.73,156.54ZM128.72,152.17 L128.93,151.21 L129.14,150.21 L129.27,149.63 L127.32,149.21 L127.19,149.79 L126.97,150.79 L126.76,151.75ZM129.83,147.48 L130.22,146.32 L130.66,145.08 L128.78,144.40 L128.33,145.67 L127.91,146.92ZM131.45,142.94 L131.55,142.69 L132.21,141.04 L132.41,140.56 L130.57,139.78 L130.36,140.27 L129.68,141.97 L129.59,142.22ZM133.32,138.48 L133.53,138.01 L134.19,136.63 L134.43,136.17 L132.64,135.27 L132.40,135.75 L131.72,137.17 L131.50,137.65ZM135.49,134.18 L135.51,134.13 L136.17,133.02 L136.80,132.02 L135.13,130.92 L134.46,131.98 L133.77,133.15 L133.74,133.20ZM138.09,130.23 L138.11,130.20 L138.74,129.45 L139.37,128.79 L139.74,128.44 L138.41,126.96 L137.97,127.36 L137.25,128.12 L136.54,128.95 L136.53,128.98ZM141.41,127.23 L141.77,127.04 L142.34,126.82 L142.90,126.67 L143.45,126.59 L143.48,126.59 L143.32,124.59 L143.28,124.59 L142.49,124.71 L141.71,124.92 L140.94,125.23 L140.46,125.48ZM145.37,126.82 L145.70,126.93 L146.29,127.18 L146.89,127.50 L147.44,127.85 L148.55,126.15 L147.89,125.75 L147.15,125.37 L146.40,125.05 L145.96,124.91ZM149.10,129.20 L149.36,129.43 L149.99,130.06 L150.63,130.74 L150.84,130.98 L152.45,129.51 L152.21,129.26 L151.51,128.54 L150.79,127.88 L150.51,127.63ZM152.28,132.70 L152.55,133.05 L153.20,133.90 L153.81,134.73 L155.66,133.37 L155.01,132.52 L154.31,131.65 L154.01,131.29ZM155.10,136.59 L155.15,136.66 L155.80,137.64 L156.46,138.65 L156.52,138.74 L158.53,137.42 L158.46,137.32 L157.77,136.31 L157.08,135.33 L157.03,135.26ZM157.73,140.67 L157.77,140.72 L158.42,141.79 L159.08,142.87 L159.08,142.87 L161.21,141.56 L161.21,141.55 L160.52,140.47 L159.84,139.40 L159.80,139.35ZM160.28,144.83 L160.42,145.06 L161.08,146.17 L161.61,147.05 L163.76,145.77 L163.23,144.88 L162.56,143.76 L162.42,143.53ZM162.78,149.02 L163.09,149.55 L163.76,150.69 L164.10,151.26 L166.25,150.00 L165.92,149.43 L165.25,148.28 L164.93,147.75ZM165.26,153.24 L165.78,154.13 L166.45,155.28 L166.57,155.49 L168.73,154.23 L168.61,154.02 L167.93,152.87 L167.42,151.98ZM167.73,157.48 L167.79,157.57 L168.46,158.72 L169.05,159.72 L171.20,158.45 L170.62,157.45 L169.95,156.31 L169.89,156.21ZM170.22,161.70 L170.48,162.14 L171.15,163.27 L171.55,163.94 L173.70,162.66 L173.30,161.99 L172.63,160.86 L172.37,160.43ZM172.74,165.92 L173.17,166.64 L173.84,167.75 L174.08,168.15 L176.22,166.85 L175.98,166.45 L175.31,165.34 L174.88,164.63ZM175.29,170.12 L175.86,171.04 L176.53,172.13 L176.66,172.33 L178.78,171.01 L178.66,170.81 L177.99,169.73 L177.42,168.81ZM177.88,174.29 L178.55,175.35 L179.22,176.41 L179.28,176.49 L181.38,175.15 L181.33,175.06 L180.66,174.01 L180.00,172.96ZM180.52,178.43 L180.57,178.51 L181.24,179.54 L181.92,180.57 L181.95,180.62 L184.04,179.25 L184.01,179.20 L183.34,178.18 L182.67,177.15 L182.62,177.08ZM183.22,182.54 L183.26,182.61 L183.94,183.62 L184.61,184.63 L184.67,184.71 L186.74,183.31 L186.68,183.23 L186.01,182.23 L185.35,181.23 L185.30,181.16ZM185.97,186.62 L186.63,187.59 L187.30,188.57 L187.45,188.77 L189.50,187.34 L189.36,187.14 L188.69,186.17 L188.03,185.21ZM188.77,190.66 L189.32,191.45 L190.00,192.40 L190.28,192.79 L192.31,191.34 L192.03,190.95 L191.37,190.01 L190.81,189.22ZM191.63,194.66 L192.02,195.20 L192.69,196.13 L193.17,196.77 L195.18,195.29 L194.71,194.65 L194.04,193.73 L193.65,193.20ZM194.54,198.62 L194.71,198.85 L195.39,199.75 L196.06,200.64 L196.11,200.71 L198.10,199.20 L198.05,199.13 L197.38,198.25 L196.72,197.36 L196.54,197.13ZM197.51,202.54 L198.08,203.28 L198.75,204.15 L199.11,204.61 L201.08,203.07 L200.73,202.61 L200.06,201.75 L199.49,201.02ZM200.54,206.42 L200.78,206.72 L201.45,207.56 L202.12,208.40 L202.17,208.46 L204.11,206.89 L204.07,206.84 L203.40,206.00 L202.73,205.16 L202.50,204.87ZM203.62,210.25 L204.14,210.89 L204.82,211.70 L205.28,212.26 L207.21,210.67 L206.74,210.11 L206.08,209.30 L205.56,208.67ZM206.77,214.04 L206.84,214.12 L207.51,214.92 L208.19,215.71 L208.46,216.02 L210.36,214.39 L210.09,214.08 L209.42,213.30 L208.75,212.51 L208.68,212.42ZM209.97,217.77 L210.21,218.04 L210.88,218.81 L211.56,219.57 L211.70,219.73 L213.56,218.07 L213.43,217.91 L212.76,217.16 L212.09,216.40 L211.85,216.13ZM213.24,221.45 L213.58,221.83 L214.25,222.57 L214.93,223.30 L215.00,223.38 L216.84,221.68 L216.77,221.61 L216.10,220.88 L215.43,220.15 L215.09,219.77ZM216.57,225.07 L216.95,225.47 L217.63,226.19 L218.30,226.89 L218.37,226.97 L220.18,225.24 L220.11,225.17 L219.44,224.47 L218.77,223.76 L218.40,223.36ZM219.98,228.63 L220.33,228.98 L221.00,229.67 L221.68,230.35 L221.82,230.49 L223.59,228.72 L223.44,228.58 L222.78,227.91 L222.11,227.23 L221.77,226.88ZM223.46,232.11 L223.70,232.35 L224.38,233.00 L225.05,233.65 L225.34,233.93 L227.07,232.12 L226.78,231.85 L226.11,231.21 L225.45,230.56 L225.21,230.33ZM227.03,235.52 L227.08,235.57 L227.75,236.19 L228.43,236.82 L228.95,237.29 L230.63,235.44 L230.11,234.97 L229.45,234.36 L228.78,233.74 L228.73,233.69ZM230.68,238.84 L231.13,239.24 L231.81,239.83 L232.48,240.41 L232.65,240.56 L234.28,238.66 L234.11,238.52 L233.45,237.94 L232.78,237.36 L232.33,236.97ZM234.42,242.06 L234.51,242.13 L235.19,242.69 L235.86,243.25 L236.45,243.72 L238.02,241.77 L237.44,241.31 L236.78,240.76 L236.11,240.21 L236.02,240.14ZM238.26,245.16 L238.57,245.40 L239.25,245.93 L239.92,246.44 L240.34,246.76 L241.85,244.76 L241.44,244.46 L240.77,243.95 L240.11,243.43 L239.80,243.19ZM242.20,248.14 L242.63,248.46 L243.31,248.94 L243.99,249.42 L244.35,249.67 L245.77,247.61 L245.42,247.37 L244.76,246.90 L244.10,246.43 L243.68,246.12ZM246.27,250.97 L246.71,251.26 L247.39,251.70 L248.07,252.13 L248.49,252.39 L249.81,250.27 L249.40,250.01 L248.74,249.59 L248.08,249.16 L247.65,248.89ZM250.49,253.60 L250.79,253.78 L251.47,254.17 L252.15,254.55 L252.78,254.90 L253.98,252.71 L253.37,252.37 L252.71,252.00 L252.05,251.62 L251.75,251.44ZM255.01,256.09 L255.55,256.37 L256.23,256.71 L256.91,257.05 L257.37,257.27 L258.46,255.02 L258.01,254.80 L257.35,254.47 L256.68,254.14 L256.16,253.87ZM259.65,258.35 L260.30,258.64 L260.98,258.95 L261.65,259.25 L262.04,259.42 L263.05,257.13 L262.66,256.96 L262.00,256.67 L261.33,256.37 L260.69,256.08ZM264.36,260.41 L264.36,260.41 L265.03,260.70 L265.71,260.98 L266.38,261.26 L266.77,261.42 L267.72,259.10 L267.33,258.94 L266.66,258.67 L265.99,258.39 L265.33,258.11 L265.33,258.11ZM269.10,262.35 L269.75,262.61 L270.42,262.88 L271.10,263.15 L271.52,263.31 L272.44,260.99 L272.01,260.82 L271.34,260.56 L270.67,260.29 L270.03,260.03ZM273.86,264.22 L274.46,264.46 L275.13,264.71 L275.80,264.97 L276.29,265.16 L277.18,262.82 L276.70,262.64 L276.03,262.38 L275.36,262.12 L274.76,261.89ZM278.64,266.04 L279.17,266.24 L279.84,266.50 L280.52,266.74 L281.09,266.95 L281.94,264.60 L281.38,264.40 L280.71,264.15 L280.04,263.90 L279.51,263.70ZM283.46,267.79 L283.90,267.95 L284.57,268.18 L285.25,268.41 L285.92,268.64 L285.93,268.64 L286.73,266.27 L286.72,266.27 L286.05,266.04 L285.38,265.82 L284.71,265.59 L284.28,265.43ZM288.32,269.43 L288.62,269.53 L289.30,269.74 L289.97,269.96 L290.65,270.17 L290.81,270.22 L291.55,267.83 L291.39,267.78 L290.72,267.57 L290.05,267.36 L289.39,267.15 L289.09,267.05ZM293.22,270.95 L293.35,270.99 L294.02,271.19 L294.70,271.38 L295.37,271.58 L295.73,271.68 L296.41,269.27 L296.06,269.17 L295.39,268.98 L294.72,268.79 L294.06,268.59 L293.93,268.55ZM298.15,272.35 L298.74,272.51 L299.42,272.70 L300.09,272.87 L300.68,273.03 L301.31,270.61 L300.73,270.46 L300.06,270.28 L299.40,270.10 L298.81,269.94ZM303.11,273.65 L303.47,273.74 L304.14,273.90 L304.82,274.07 L305.49,274.23 L305.65,274.27 L306.23,271.84 L306.07,271.80 L305.41,271.64 L304.74,271.48 L304.07,271.31 L303.72,271.22ZM308.09,274.84 L308.19,274.86 L308.86,275.02 L309.54,275.17 L310.21,275.32 L310.64,275.41 L311.18,272.97 L310.75,272.88 L310.08,272.73 L309.41,272.58 L308.75,272.43 L308.65,272.41ZM313.10,275.94 L313.58,276.04 L314.26,276.18 L314.93,276.32 L315.60,276.45 L315.66,276.46 L316.15,274.01 L316.09,274.00 L315.42,273.86 L314.76,273.73 L314.09,273.59 L313.61,273.49ZM318.12,276.94 L318.30,276.97 L318.98,277.10 L319.65,277.22 L320.32,277.35 L320.69,277.41 L321.13,274.95 L320.77,274.89 L320.10,274.76 L319.43,274.64 L318.76,274.52 L318.59,274.48ZM323.17,277.84 L323.70,277.93 L324.37,278.05 L325.04,278.16 L325.72,278.27 L325.74,278.27 L326.14,275.80 L326.11,275.80 L325.45,275.69 L324.78,275.58 L324.11,275.47 L323.59,275.38ZM328.22,278.66 L328.41,278.69 L329.09,278.79 L329.76,278.89 L330.44,278.98 L330.81,279.04 L331.16,276.56 L330.79,276.51 L330.12,276.41 L329.45,276.31 L328.79,276.21 L328.60,276.18ZM333.29,279.38 L333.81,279.45 L334.48,279.53 L335.15,279.62 L335.83,279.71 L335.88,279.71 L336.19,277.23 L336.14,277.22 L335.47,277.14 L334.80,277.05 L334.13,276.97 L333.63,276.90ZM338.38,280.01 L338.52,280.03 L339.20,280.11 L339.87,280.18 L340.55,280.26 L340.97,280.30 L341.24,277.82 L340.82,277.77 L340.15,277.70 L339.48,277.62 L338.81,277.55 L338.67,277.53ZM343.47,280.56 L343.91,280.60 L344.59,280.67 L345.26,280.73 L345.94,280.80 L346.07,280.81 L346.29,278.32 L346.16,278.31 L345.50,278.24 L344.83,278.18 L344.16,278.12 L343.72,278.07ZM348.57,281.03 L348.63,281.03 L349.30,281.09 L349.98,281.14 L350.65,281.19 L351.17,281.23 L351.36,278.74 L350.84,278.70 L350.18,278.65 L349.51,278.60 L348.84,278.54 L348.77,278.53ZM353.67,281.41 L354.02,281.44 L354.69,281.48 L355.37,281.52 L356.04,281.57 L356.27,281.58 L356.43,279.08 L356.19,279.07 L355.52,279.03 L354.86,278.99 L354.19,278.94 L353.84,278.92ZM358.78,281.72 L359.41,281.76 L360.08,281.79 L360.75,281.83 L361.37,281.86 L361.51,279.36 L360.88,279.33 L360.21,279.29 L359.54,279.26 L358.91,279.23ZM363.86,282.01 L364.10,282.02 L364.77,282.06 L365.44,282.10 L366.11,282.14 L366.46,282.16 L366.60,279.67 L366.26,279.65 L365.59,279.61 L364.92,279.57 L364.25,279.53 L364.01,279.51ZM368.97,282.30 L369.48,282.32 L370.15,282.35 L370.83,282.38 L371.50,282.41 L371.58,282.41 L371.68,279.92 L371.60,279.91 L370.94,279.89 L370.27,279.86 L369.60,279.83 L369.09,279.80ZM374.09,282.50 L374.20,282.51 L374.87,282.53 L375.55,282.54 L376.22,282.56 L376.70,282.57 L376.75,280.07 L376.28,280.06 L375.61,280.04 L374.94,280.03 L374.28,280.01 L374.16,280.00ZM379.21,282.61 L379.59,282.62 L380.27,282.63 L380.94,282.63 L381.61,282.64 L381.82,282.64 L381.83,280.14 L381.63,280.14 L380.96,280.13 L380.29,280.13 L379.62,280.12 L379.24,280.11ZM384.32,282.65 L384.98,282.65 L385.65,282.65 L386.32,282.65 L386.92,282.65 L386.92,280.15 L386.32,280.15 L385.65,280.15 L384.98,280.15 L384.33,280.15ZM389.82,282.65 L390.35,282.65 L391.02,282.65 L391.69,282.65 L392.36,282.65 L393.03,282.65 L393.70,282.65 L394.02,282.65 L394.02,280.15 L393.70,280.15 L393.03,280.15 L392.36,280.15 L391.69,280.15 L391.02,280.15 L390.35,280.15 L389.82,280.15ZM396.92,282.65 L397.06,282.65 L397.73,282.65 L398.40,282.65 L399.07,282.65 L399.74,282.65 L400.41,282.65 L401.08,282.65 L401.12,282.65 L401.12,280.15 L401.08,280.15 L400.41,280.15 L399.74,280.15 L399.07,280.15 L398.40,280.15 L397.73,280.15 L397.06,280.15 L396.92,280.15ZM404.02,282.65 L404.44,282.65 L405.11,282.65 L405.78,282.65 L406.45,282.65 L407.12,282.65 L407.80,282.65 L408.22,282.65 L408.22,280.15 L407.80,280.15 L407.12,280.15 L406.45,280.15 L405.78,280.15 L405.11,280.15 L404.44,280.15 L404.02,280.15ZM411.12,282.65 L411.15,282.65 L411.82,282.65 L412.49,282.65 L413.16,282.65 L413.84,282.65 L414.51,282.65 L415.18,282.65 L415.32,282.65 L415.32,280.15 L415.18,280.15 L414.51,280.15 L413.84,280.15 L413.16,280.15 L412.49,280.15 L411.82,280.15 L411.15,280.15 L411.12,280.15ZM418.22,282.65 L418.53,282.65 L419.20,282.65 L419.88,282.65 L420.55,282.65 L421.22,282.65 L421.89,282.65 L422.42,282.65 L422.42,280.15 L421.89,280.15 L421.22,280.15 L420.55,280.15 L419.88,280.15 L419.20,280.15 L418.53,280.15 L418.22,280.15ZM425.32,282.65 L425.92,282.65 L426.59,282.65 L427.26,282.65 L427.93,282.65 L428.60,282.65 L429.27,282.65 L429.52,282.65 L429.52,280.15 L429.27,280.15 L428.60,280.15 L427.93,280.15 L427.26,280.15 L426.59,280.15 L425.92,280.15 L425.32,280.15ZM432.42,282.65 L432.63,282.65 L433.30,282.65 L433.97,282.65 L434.64,282.65 L435.31,282.65 L435.98,282.65 L436.62,282.65 L436.62,280.15 L435.98,280.15 L435.31,280.15 L434.64,280.15 L433.97,280.15 L433.30,280.15 L432.63,280.15 L432.42,280.15ZM439.52,282.65 L440.01,282.65 L440.68,282.65 L441.35,282.65 L442.02,282.65 L442.69,282.65 L443.37,282.65 L443.72,282.65 L443.72,280.15 L443.37,280.15 L442.69,280.15 L442.02,280.15 L441.35,280.15 L440.68,280.15 L440.01,280.15 L439.52,280.15ZM446.62,282.65 L446.72,282.65 L447.39,282.65 L448.06,282.65 L448.73,282.65 L449.41,282.65 L450.08,282.65 L450.75,282.65 L450.82,282.65 L450.82,280.15 L450.75,280.15 L450.08,280.15 L449.41,280.15 L448.73,280.15 L448.06,280.15 L447.39,280.15 L446.72,280.15 L446.62,280.15ZM453.72,282.65 L454.10,282.65 L454.78,282.65 L455.45,282.65 L456.12,282.65 L456.79,282.65 L457.46,282.65 L457.92,282.65 L457.92,280.15 L457.46,280.15 L456.79,280.15 L456.12,280.15 L455.45,280.15 L454.78,280.15 L454.10,280.15 L453.72,280.15ZM460.82,282.65 L461.49,282.65 L462.16,282.65 L462.83,282.65 L463.50,282.65 L463.50,280.15 L462.83,280.15 L462.16,280.15 L461.49,280.15 L460.82,280.15Z" fill="#0000ff"/>
<g fill="none" stroke="#000" stroke-width="1.25">
<path d="M100.98,15.0 H464.12" stroke-width="1.6"/>
<path d="M101.6,15.0 V281.4 M463.5,15.0 V281.4"/>
<path d="M101.6,15.0 V281.4 M463.5,15.0 V281.4"/>
<path d="M100.98,281.4 H464.12"/>
<path d="M119.00,281.4 V274.30 M119.00,15.0 V22.10"/><path d="M205.12,281.4 V274.30 M205.12,15.0 V22.10"/><path d="M291.25,281.4 V274.30 M291.25,15.0 V22.10"/><path d="M377.38,281.4 V274.30 M377.38,15.0 V22.10"/><path d="M463.50,281.4 V274.30 M463.50,15.0 V22.10"/><path d="M101.6,281.40 H108.70 M463.5,281.40 H456.40"/><path d="M101.6,243.34 H108.70 M463.5,243.34 H456.40"/><path d="M101.6,205.29 H108.70 M463.5,205.29 H456.40"/><path d="M101.6,167.23 H108.70 M463.5,167.23 H456.40"/><path d="M101.6,129.18 H108.70 M463.5,129.18 H456.40"/><path d="M101.6,91.12 H108.70 M463.5,91.12 H456.40"/><path d="M101.6,53.07 H108.70 M463.5,53.07 H456.40"/><path d="M101.6,15.01 H108.70 M463.5,15.01 H456.40"/>
</g>
<g font-size="16" fill="#000">
<text transform="translate(120.80,302.1) rotate(0.06) scale(0.97,1.0)" text-anchor="middle">0</text><text transform="translate(206.93,302.1) rotate(0.06) scale(0.97,1.0)" text-anchor="middle">5</text><text transform="translate(293.05,302.1) rotate(0.06) scale(0.97,1.0)" text-anchor="middle">10</text><text transform="translate(379.18,302.1) rotate(0.06) scale(0.97,1.0)" text-anchor="middle">15</text><text transform="translate(465.30,302.1) rotate(0.06) scale(0.97,1.0)" text-anchor="middle">20</text><text transform="translate(92.6,286.70) rotate(0.06) scale(0.97,1.0)" text-anchor="end">0</text><text transform="translate(92.6,248.64) rotate(0.06) scale(0.97,1.0)" text-anchor="end">0.5</text><text transform="translate(92.6,210.59) rotate(0.06) scale(0.97,1.0)" text-anchor="end">1</text><text transform="translate(92.6,172.53) rotate(0.06) scale(0.97,1.0)" text-anchor="end">1.5</text><text transform="translate(92.6,134.48) rotate(0.06) scale(0.97,1.0)" text-anchor="end">2</text><text transform="translate(92.6,96.42) rotate(0.06) scale(0.97,1.0)" text-anchor="end">2.5</text><text transform="translate(92.6,58.37) rotate(0.06) scale(0.97,1.0)" text-anchor="end">3</text><text transform="translate(92.6,20.31) rotate(0.06) scale(0.97,1.0)" text-anchor="end">3.5</text>
</g>
<g font-family="Liberation Serif, serif" font-size="13.7" fill="#000">
<text transform="translate(212.6,37.3) rotate(0.06)">A1</text>
<text transform="translate(293.2,37.3) rotate(0.06)">A4</text>
<text transform="translate(374.4,37.3) rotate(0.06)">A7</text>
</g>
<g fill="none" stroke-width="2.3">
<path d="M239.1,32.6 H283.1" stroke="#000" stroke-width="2.1"/>
<path d="M320.1,32.6 H364.6" stroke="#ff0000" stroke-dasharray="4.8 1.8"/>
<path d="M400.85,32.6 H441.8" stroke="#0000ff" stroke-dasharray="2.4 3.09"/>
</g>
<text transform="translate(291,94.6) rotate(0.06) scale(0.97,1)" font-size="16" fill="#000">NS&#8211;NS (&#964;<tspan font-size="12.8" dy="5.3" dx="1">0</tspan><tspan dy="-5.3" font-size="15.6" dx="0.3"> = 20 Myr)</tspan></text>
<text transform="translate(282.6,326.8) rotate(0.06)" font-size="22" text-anchor="middle" fill="#000">z</text>
<g transform="translate(47.3,0) rotate(-90)" font-size="22" fill="#000">
<text x="-220.3" y="0">&#961;</text>
<rect x="-215.8" y="-16.3" width="2.2" height="2.2"/>
<text x="-207.8" y="5.2" font-size="17.6">c</text>
<text x="-198.8" y="-12.3" font-size="17.6">0</text>
<text x="-183.4" y="-0.8">(</text>
<text x="-176.3" y="0">z</text>
<text x="-166.4" y="-0.8">)</text>
<text x="-152.1" y="0">/</text>
<text x="-140.3" y="0">&#961;</text>
<rect x="-135.8" y="-16.3" width="2.2" height="2.2"/>
<text x="-127.8" y="5.2" font-size="17.6">c</text>
<text x="-118.8" y="-12.3" font-size="17.6">0</text>
<text x="-102.4" y="-0.8">(</text>
<text x="-95.3" y="0">0</text>
<text x="-83.7" y="-0.8">)</text>
</g>
</svg>
</body></html>
